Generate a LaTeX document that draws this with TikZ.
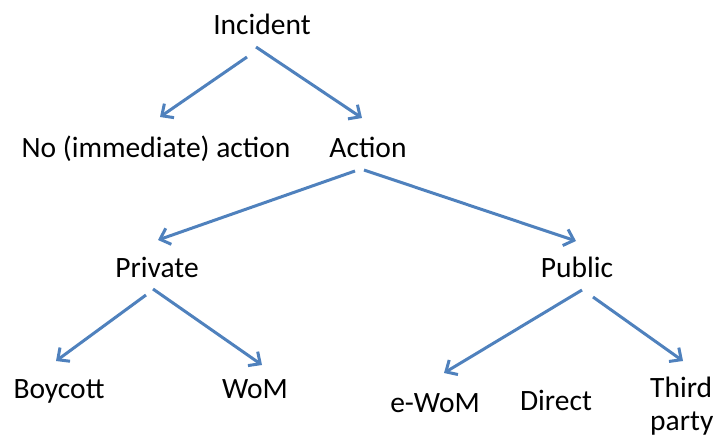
\documentclass[tikz,border=0pt]{standalone}
\usepackage{fontspec}
\setmainfont{Carlito}
\usetikzlibrary{arrows.meta}
\definecolor{officeblue}{HTML}{4F81BD}
\tikzset{
  lbl/.style={inner sep=0pt, anchor=base, font=\fontsize{29.5pt}{33pt}\selectfont},
  conn/.style={draw=officeblue, line width=3pt, -{Straight Barb[length=9pt,width=17pt,line width=3pt]}}
}
\begin{document}
\begin{tikzpicture}[x=1pt,y=-1pt]
\useasboundingbox (0,0) rectangle (713,440);
\node[lbl] (inc) at (262,34) {Incident};
\node[lbl] (noact) at (156,157) {No (immediate) action};
\node[lbl] (act) at (368,157) {Action};
\node[lbl] (priv) at (157,277) {Private};
\node[lbl] (pub) at (577,277) {Public};
\node[lbl] (boy) at (59,398) {Boycott};
\node[lbl] (wom) at (255,398) {WoM};
\node[lbl] (ewom) at (435,412) {e-WoM};
\node[lbl] (dir) at (556,410) {Direct};
\node[lbl, anchor=base west, align=left] (third) at (650,430) {Third\\party};
% connector end points
\coordinate (inc-l) at (247,57);
\coordinate (inc-r) at (256,47);
\coordinate (noact-t) at (160,117);
\coordinate (act-t) at (362,118);
\coordinate (act-l) at (355,171);
\coordinate (act-r) at (364,170);
\coordinate (priv-t) at (158,240);
\coordinate (pub-t) at (576,241);
\coordinate (priv-l) at (146,295);
\coordinate (priv-r) at (153,289);
\coordinate (boy-t) at (56,361);
\coordinate (wom-t) at (262,365);
\coordinate (pub-l) at (582,290);
\coordinate (pub-r) at (593,297);
\coordinate (ewom-t) at (444,373);
\coordinate (third-t) at (683,361);
\draw[conn] (inc-l) -- (noact-t);
\draw[conn] (inc-r) -- (act-t);
\draw[conn] (act-l) -- (priv-t);
\draw[conn] (act-r) -- (pub-t);
\draw[conn] (priv-l) -- (boy-t);
\draw[conn] (priv-r) -- (wom-t);
\draw[conn] (pub-l) -- (ewom-t);
\draw[conn] (pub-r) -- (third-t);
\end{tikzpicture}
\end{document}
